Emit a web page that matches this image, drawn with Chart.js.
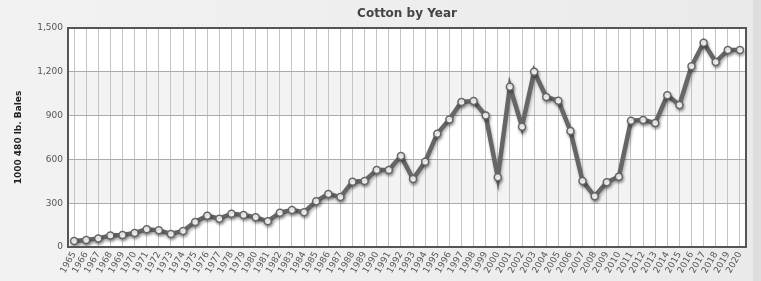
<!DOCTYPE html>
<html>
<head>
<meta charset="utf-8">
<script src="https://cdn.jsdelivr.net/npm/chart.js@4/dist/chart.umd.min.js"></script>
<style>
  html, body { margin: 0; padding: 0; background: #efefef; }
  #wrap { width: 761px; height: 281px; }
</style>
</head>
<body>
<div id="wrap"><canvas id="cottonChart" width="761" height="281"></canvas></div>
<script>
// Cotton by Year
const years = ['1965', '1966', '1967', '1968', '1969', '1970', '1971', '1972', '1973', '1974',
    '1975', '1976', '1977', '1978', '1979', '1980', '1981', '1982', '1983', '1984',
    '1985', '1986', '1987', '1988', '1989', '1990', '1991', '1992', '1993', '1994',
    '1995', '1996', '1997', '1998', '1999', '2000', '2001', '2002', '2003', '2004',
    '2005', '2006', '2007', '2008', '2009', '2010', '2011', '2012', '2013', '2014',
    '2015', '2016', '2017', '2018', '2019', '2020'];

const bales = [41, 48, 59, 78, 82, 96, 121, 114, 89, 110,
    171, 214, 194, 228, 219, 203, 176, 235, 253, 238,
    313, 363, 342, 447, 452, 527, 527, 623, 466, 584,
    776, 874, 993, 1000, 900, 477, 1098, 824, 1201, 1027,
    1002, 795, 452, 347, 443, 482, 865, 870, 849, 1039,
    973, 1238, 1399, 1267, 1349, 1349];

const yTicks = [0, 300, 600, 900, 1200, 1500];
const shadedBands = [[300, 600], [900, 1200]];

const backdrop = {
    id: 'backdrop',
    beforeDraw(chart) {
        const ctx = chart.ctx;
        const area = chart.chartArea;
        const y = chart.scales.y;
        ctx.save();
        const g = ctx.createLinearGradient(0, 0, chart.width, 0);
        g.addColorStop(0, '#f2f2f2');
        g.addColorStop(1, '#eaeaea');
        ctx.fillStyle = g;
        ctx.fillRect(0, 0, chart.width, chart.height);
        ctx.fillStyle = '#dedede';
        ctx.fillRect(chart.width - 8, 0, 8, chart.height);
        ctx.fillStyle = '#ffffff';
        ctx.fillRect(area.left, area.top, area.right - area.left, area.bottom - area.top);
        ctx.fillStyle = '#f3f3f3';
        shadedBands.forEach(function(b) {
            const top = y.getPixelForValue(b[1]);
            const bottom = y.getPixelForValue(b[0]);
            ctx.fillRect(area.left, top, area.right - area.left, bottom - top);
        });
        ctx.restore();
    },
    beforeDatasetsDraw(chart) {
        const ctx = chart.ctx;
        ctx.save();
        ctx.shadowColor = 'rgba(0, 0, 0, 0.3)';
        ctx.shadowOffsetX = 1;
        ctx.shadowOffsetY = 2;
        ctx.shadowBlur = 3;
    },
    afterDatasetsDraw(chart) {
        chart.ctx.restore();
    },
    afterDraw(chart) {
        const ctx = chart.ctx;
        const area = chart.chartArea;
        ctx.save();
        ctx.strokeStyle = '#555555';
        ctx.lineWidth = 2;
        ctx.strokeRect(area.left, area.top, area.right - area.left, area.bottom - area.top);
        ctx.restore();
    }
};

new Chart(document.getElementById('cottonChart').getContext('2d'), {
    type: 'line',
    data: {
        labels: years,
        datasets: [{
            label: 'Cotton',
            data: bales,
            borderColor: '#666666',
            borderWidth: 4.5,
            tension: 0,
            pointRadius: 3.5,
            pointBackgroundColor: '#ffffff',
            pointBorderColor: '#666666',
            pointBorderWidth: 1.5
        }]
    },
    options: {
        responsive: false,
        animation: false,
        layout: { padding: { left: 0, right: 15, top: 0, bottom: 0 } },
        plugins: {
            legend: { display: false },
            tooltip: { enabled: false },
            title: {
                display: true,
                fullSize: false,
                text: 'Cotton by Year',
                color: '#444444',
                font: { family: 'DejaVu Sans', size: 12, weight: 'bold' },
                padding: { top: 7, bottom: 6.6 }
            }
        },
        scales: {
            x: {
                offset: true,
                grid: { offset: false, color: '#c4c4c4', lineWidth: 1, drawTicks: false },
                border: { display: false },
                ticks: {
                    autoSkip: false,
                    maxRotation: 60,
                    minRotation: 60,
                    padding: 3,
                    color: '#555555',
                    font: { family: 'DejaVu Sans', size: 9 }
                },
                afterFit(scale) { scale.height = 34; }
            },
            y: {
                min: 0,
                max: 1500,
                afterBuildTicks(scale) {
                    scale.ticks = yTicks.map(function(v) { return { value: v }; });
                },
                grid: { color: '#ababab', lineWidth: 1, drawTicks: false },
                border: { display: false },
                ticks: {
                    padding: 5,
                    color: '#555555',
                    font: { family: 'DejaVu Sans', size: 9 },
                    callback: function(v) { return v.toLocaleString('en-US'); }
                },
                title: {
                    display: true,
                    text: '1000 480 lb. Bales',
                    color: '#222222',
                    font: { family: 'DejaVu Sans', size: 9, weight: 'bold' },
                    padding: { top: 13, bottom: 0 }
                },
                afterFit(scale) { scale.width = 68; }
            }
        }
    },
    plugins: [backdrop]
});
</script>
</body>
</html>
